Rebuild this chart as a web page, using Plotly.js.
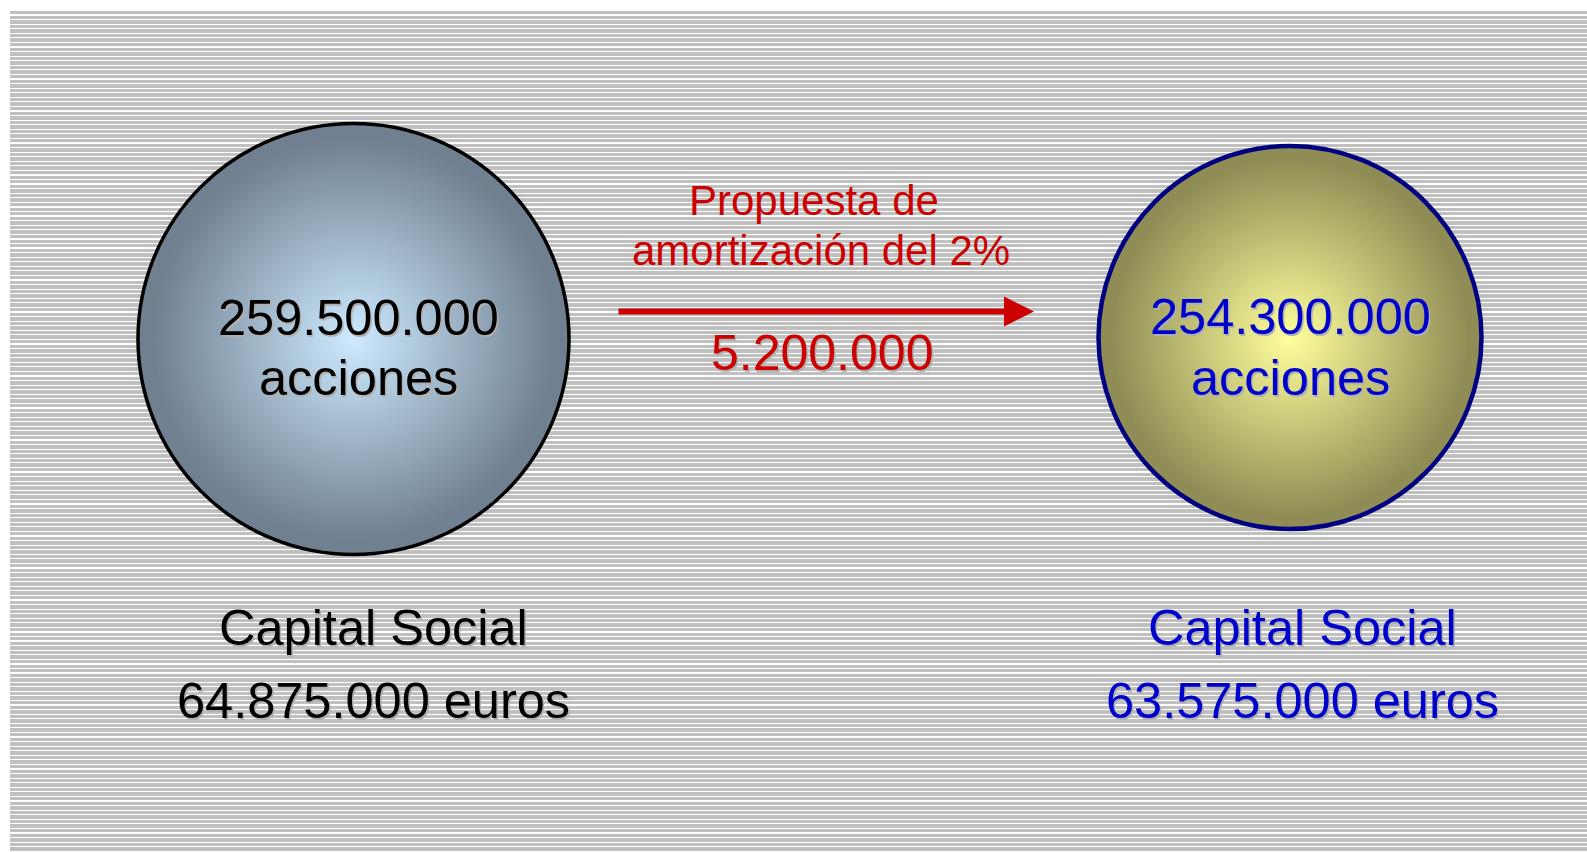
<!DOCTYPE html>
<html>
<head>
<meta charset="utf-8">
<script src="https://cdn.plot.ly/plotly-3.0.1.min.js"></script>
<style>
  html, body { margin: 0; padding: 0; background: #ffffff; overflow: hidden; }
  #wrap { position: absolute; left: 0; top: 0; width: 1587px; height: 852px; }
  #bg { position: absolute; left: 10px; top: 11px; right: 0; bottom: 0;
        background: repeating-linear-gradient(180deg, #c0c0c0 0px, #c0c0c0 3.4px, #ffffff 3.4px, #ffffff 4.57px); }
  #chart { position: absolute; left: 0; top: 0; width: 1587px; height: 852px; }
</style>
</head>
<body>
<div id="wrap"><div id="bg"></div><div id="chart"></div></div>
<script>
// ---- data ----
const acciones = [259500000, 254300000];          // shares before / after
const capitalEuros = [64875000, 63575000];        // share capital before / after
const amortizacion = 5200000;                     // shares redeemed
const amortizacionPct = 2;                        // percent
const unidadAcciones = 'acciones';
const etiquetaCapital = 'Capital Social';
const unidadEuros = 'euros';
const tituloFlecha = ['Propuesta de', 'amortización del ' + amortizacionPct + '%'];

// ---- layout constants (positions / styles) ----
const fmt = n => String(n).replace(/\B(?=(\d{3})+(?!\d))/g, '.');
const circ = [
  {x: 353.5, y: 339, size: 431, lw: 3.5, line: '#000000', edge: '#708090', center: '#cdeaff', text: '#000000', tx: 358, b1: 335, b2: 395},
  {x: 1290, y: 337.5, size: 383, lw: 4.5, line: '#000080', edge: '#8f8d55', center: '#ffff9c', text: '#0000cc', tx: 1290, b1: 334, b2: 395}
];
const innerFrac = 0.93;
const bottomX = [373.5, 1302];
const bottomB = [645, 718];
const red = '#cc0000';
const shadow = '1.5px 1.5px 0px #b0b0b0';
const FONT = 'Liberation Sans, Arial, sans-serif';
const mid = (b, s) => b - 0.3465 * s;   // baseline -> middle of text box

const traces = [];
circ.forEach(c => {
  traces.push({
    type: 'scatter', mode: 'markers', x: [c.x], y: [c.y], hoverinfo: 'skip',
    marker: { size: c.size, color: c.edge, line: { color: c.line, width: c.lw } }
  });
  traces.push({
    type: 'scatter', mode: 'markers', x: [c.x], y: [c.y], hoverinfo: 'skip',
    marker: { size: c.size * innerFrac, color: c.edge, line: { width: 0 },
              gradient: { type: 'radial', color: c.center } }
  });
});

const ann = [];
const A = (text, x, baseline, size, color, sh) => ann.push({
  text, x, y: mid(baseline, size), xref: 'x', yref: 'y', showarrow: false,
  xanchor: 'center', yanchor: 'middle',
  font: { family: FONT, size, color, shadow: sh || 'none' }
});

circ.forEach((c, i) => {
  A(fmt(acciones[i]), c.tx, c.b1, 50.5, c.text, shadow);
  A(unidadAcciones, c.tx, c.b2, 50.5, c.text, shadow);
  A(etiquetaCapital, bottomX[i], bottomB[0], 50.5, c.text, shadow);
  A(fmt(capitalEuros[i]) + ' ' + unidadEuros, bottomX[i], bottomB[1], 50.5, c.text, shadow);
});
A(tituloFlecha[0], 814, 215, 42, red);
A(tituloFlecha[1], 821, 265, 42, red);
A(fmt(amortizacion), 822, 370, 50, red, shadow);

// arrow
ann.push({ text: '', x: 1034, y: 311.5, ax: 617, ay: 311.5, xref: 'x', yref: 'y', axref: 'x', ayref: 'y',
  showarrow: true, arrowhead: 2, arrowsize: 1, arrowwidth: 6, arrowcolor: red, standoff: 0 });

const layout = {
  width: 1587, height: 852, margin: { l: 0, r: 0, t: 0, b: 0, pad: 0 },
  paper_bgcolor: 'rgba(0,0,0,0)', plot_bgcolor: 'rgba(0,0,0,0)', showlegend: false,
  xaxis: { range: [0, 1587], visible: false, fixedrange: true },
  yaxis: { range: [852, 0], visible: false, fixedrange: true },
  annotations: ann
};
Plotly.newPlot('chart', traces, layout, { displayModeBar: false, staticPlot: true });
</script>
</body>
</html>
